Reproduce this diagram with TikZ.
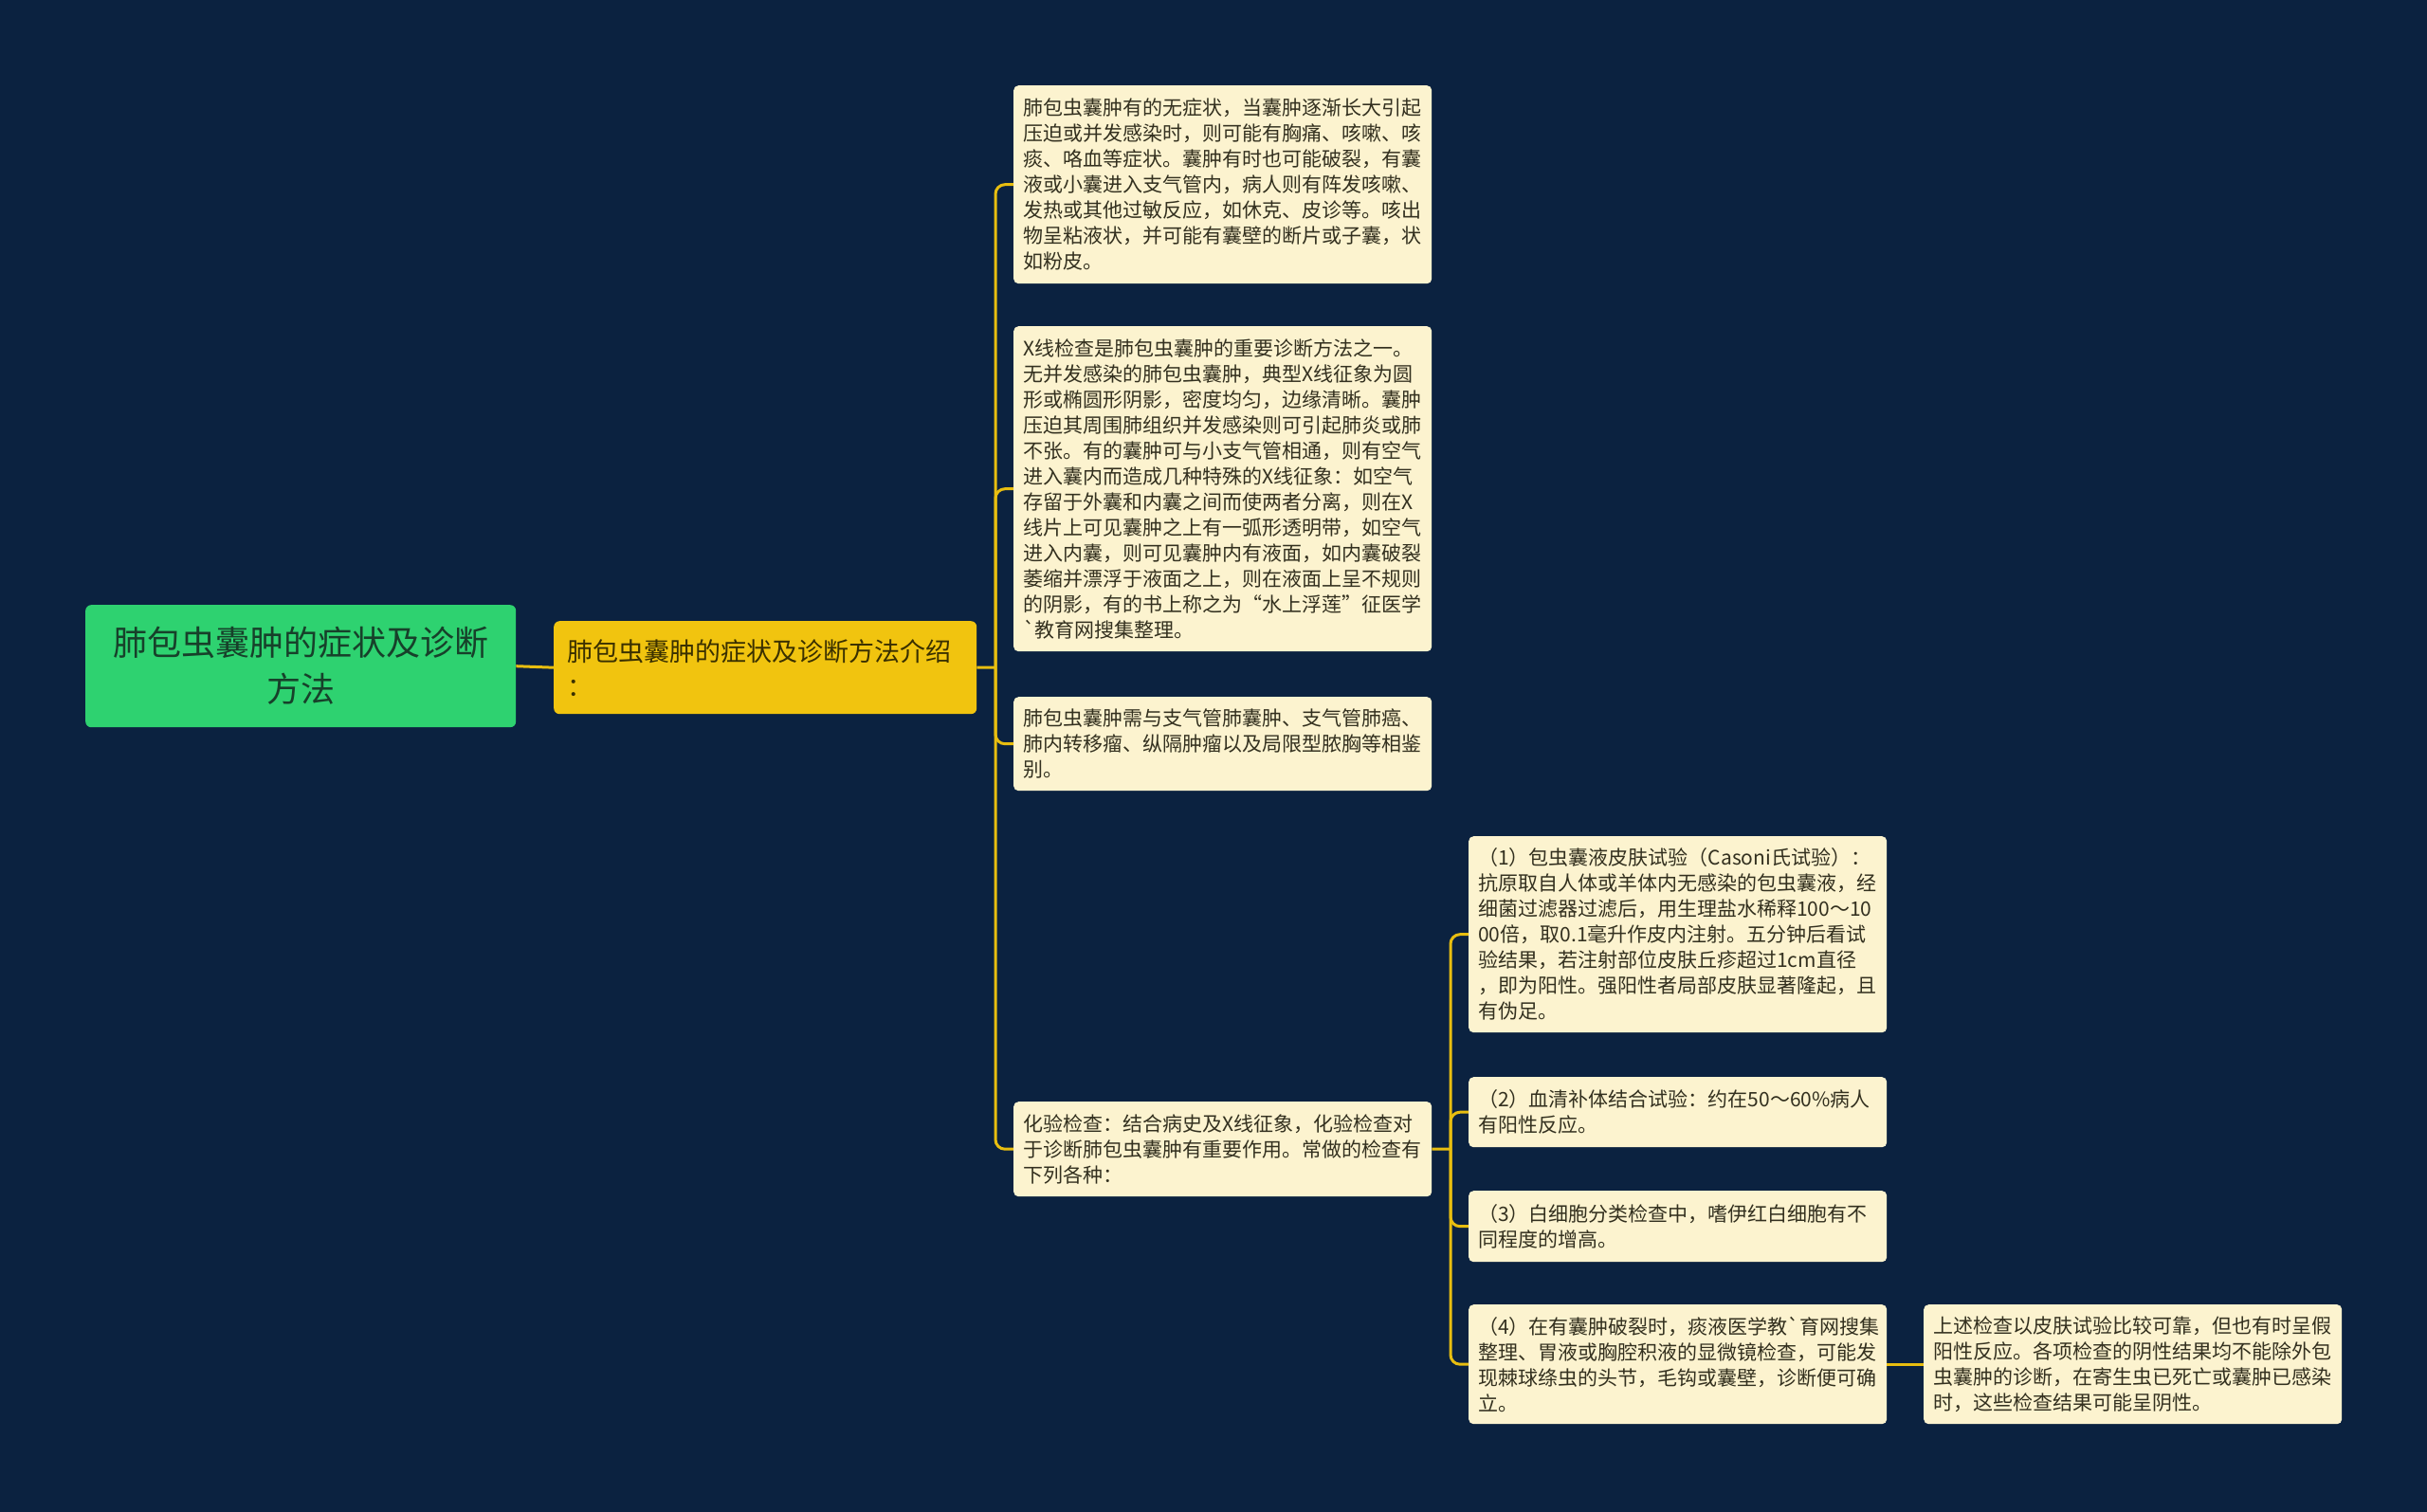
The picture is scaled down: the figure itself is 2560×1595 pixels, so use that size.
\documentclass[tikz,border=0pt]{standalone}
\usepackage{fontspec}
\newfontfamily\cjk{Noto Sans CJK SC}[Ligatures=TeXOff]
\definecolor{bg}{HTML}{0B2240}
\definecolor{rootfill}{HTML}{2ED270}
\definecolor{roottext}{HTML}{17402A}
\definecolor{midfill}{HTML}{F1C40F}
\definecolor{midtext}{HTML}{3A3000}
\definecolor{leaffill}{HTML}{FCF3CF}
\definecolor{leaftext}{HTML}{33301F}
\definecolor{linecol}{HTML}{E8BE10}
\tikzset{
  leaf/.style={fill=leaffill, rounded corners=5pt, text width=421pt, align=left,
    inner xsep=10pt, inner ysep=0pt, anchor=north west,
    font=\cjk\fontsize{21}{27}\selectfont, text=leaftext},
  conn/.style={draw=linecol, line width=3pt, rounded corners=10pt}
}
\begin{document}
\begin{tikzpicture}[x=1pt,y=-1pt]
\fill[bg] (0,0) rectangle (2560,1595);
\useasboundingbox (0,0) rectangle (2560,1595);

\node[fill=rootfill, rounded corners=6pt, anchor=north west, minimum width=454pt, minimum height=129pt,
  text width=434pt, align=center, inner sep=0pt, font=\cjk\fontsize{36}{49}\selectfont, text=roottext]
  (root) at (90,638) {肺包虫囊肿的症状及诊断\\方法};

\node[fill=midfill, rounded corners=6pt, anchor=north west, minimum width=446pt, minimum height=98pt,
  text width=418pt, align=left, inner xsep=14pt, inner ysep=0pt, font=\cjk\fontsize{27}{37}\selectfont, text=midtext]
  (mid) at (584,655) {肺包虫囊肿的症状及诊断方法介绍\\：};

\node[leaf, minimum height=209pt] (b1) at (1069,90) {肺包虫囊肿有的无症状，当囊肿逐渐长大引起\\压迫或并发感染时，则可能有胸痛、咳嗽、咳\\痰、咯血等症状。囊肿有时也可能破裂，有囊\\液或小囊进入支气管内，病人则有阵发咳嗽、\\发热或其他过敏反应，如休克、皮诊等。咳出\\物呈粘液状，并可能有囊壁的断片或子囊，状\\如粉皮。};

\node[leaf, minimum height=343pt] (b2) at (1069,344) {X线检查是肺包虫囊肿的重要诊断方法之一。\\无并发感染的肺包虫囊肿，典型X线征象为圆\\形或椭圆形阴影，密度均匀，边缘清晰。囊肿\\压迫其周围肺组织并发感染则可引起肺炎或肺\\不张。有的囊肿可与小支气管相通，则有空气\\进入囊内而造成几种特殊的X线征象：如空气\\存留于外囊和内囊之间而使两者分离，则在X\\线片上可见囊肿之上有一弧形透明带，如空气\\进入内囊，则可见囊肿内有液面，如内囊破裂\\萎缩并漂浮于液面之上，则在液面上呈不规则\\的阴影，有的书上称之为“水上浮莲”征医学\\`教育网搜集整理。};

\node[leaf, minimum height=99pt] (b3) at (1069,735) {肺包虫囊肿需与支气管肺囊肿、支气管肺癌、\\肺内转移瘤、纵隔肿瘤以及局限型脓胸等相鉴\\别。};

\node[leaf, minimum height=100pt] (b4) at (1069,1162) {化验检查：结合病史及X线征象，化验检查对\\于诊断肺包虫囊肿有重要作用。常做的检查有\\下列各种：};

\node[leaf, minimum height=207pt] (c1) at (1549,882) {（1）包虫囊液皮肤试验（Casoni氏试验）：\\抗原取自人体或羊体内无感染的包虫囊液，经\\细菌过滤器过滤后，用生理盐水稀释100～10\\00倍，取0.1毫升作皮内注射。五分钟后看试\\验结果，若注射部位皮肤丘疹超过1cm直径\\，即为阳性。强阳性者局部皮肤显著隆起，且\\有伪足。};

\node[leaf, minimum height=74pt] (c2) at (1549,1136) {（2）血清补体结合试验：约在50～60\%病人\\有阳性反应。};

\node[leaf, minimum height=75pt] (c3) at (1549,1256) {（3）白细胞分类检查中，嗜伊红白细胞有不\\同程度的增高。};

\node[leaf, minimum height=126pt] (c4) at (1549,1376) {（4）在有囊肿破裂时，痰液医学教`育网搜集\\整理、胃液或胸腔积液的显微镜检查，可能发\\现棘球绦虫的头节，毛钩或囊壁，诊断便可确\\立。};

\node[leaf, minimum height=126pt] (d1) at (2029,1376) {上述检查以皮肤试验比较可靠，但也有时呈假\\阳性反应。各项检查的阴性结果均不能除外包\\虫囊肿的诊断，在寄生虫已死亡或囊肿已感染\\时，这些检查结果可能呈阴性。};

% connectors
\draw[conn] (root.east) -- (mid.west);
\coordinate (t1) at (1050,704);
\draw[conn, rounded corners=0pt] (mid.east) -- (t1);
\foreach \n in {b1,b2,b3,b4} {\draw[conn] (t1) |- (\n.west);}
\coordinate (t2) at (1530,1212);
\draw[conn, rounded corners=0pt] (b4.east) -- (t2);
\foreach \n in {c1,c2,c3,c4} {\draw[conn] (t2) |- (\n.west);}
\draw[conn] (c4.east) -- (d1.west);
\end{tikzpicture}
\end{document}
